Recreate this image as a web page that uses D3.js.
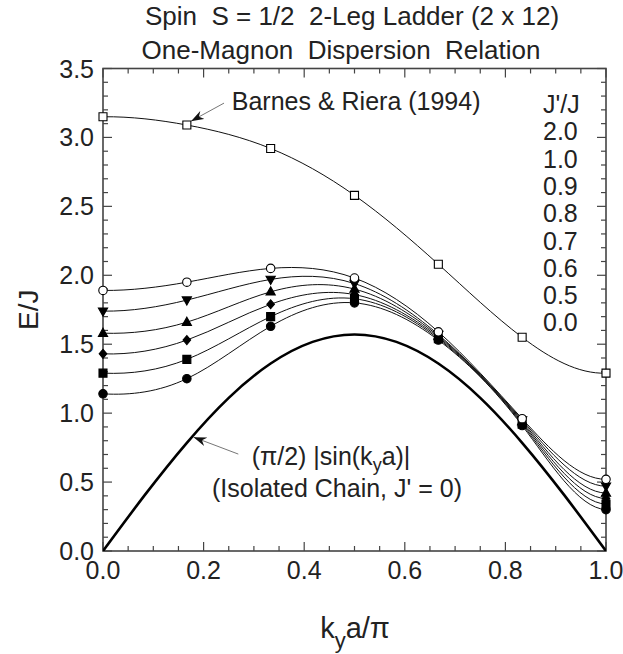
<!DOCTYPE html>
<html>
<head>
<meta charset="utf-8">
<script src="https://cdn.jsdelivr.net/npm/d3@7"></script>
<style>
  html, body { margin: 0; padding: 0; background: #fff; }
  svg { display: block; }
  text { font-family: "Liberation Sans", Arial, Helvetica, sans-serif; fill: #222; }
</style>
</head>
<body>
<svg id="chart" width="623" height="654"></svg>
<script>
// Wave vector k_y a / pi for the 2 x 12 ladder (k = 0 ... pi in steps of pi/6)
const kya = [0, 0.1667, 0.3333, 0.5, 0.6667, 0.8333, 1.0];

// One-magnon energies E/J for each rung coupling J'/J
const barnes = [3.15, 3.09, 2.92, 2.58, 2.08, 1.55, 1.29];   // J'/J = 2.0 (Barnes & Riera 1994)
const j10 = [1.89, 1.95, 2.05, 1.98, 1.59, 0.96, 0.52];
const j09 = [1.74, 1.82, 1.97, 1.94, 1.57, 0.95, 0.47];
const j08 = [1.58, 1.66, 1.88, 1.90, 1.56, 0.94, 0.42];
const j07 = [1.43, 1.53, 1.79, 1.86, 1.55, 0.93, 0.38];
const j06 = [1.29, 1.39, 1.70, 1.83, 1.54, 0.92, 0.34];
const j05 = [1.14, 1.25, 1.63, 1.80, 1.53, 0.91, 0.30];

// Isolated chain, J' = 0: (pi/2)|sin(k_y a)|
const chainK = [0, 0.0833, 0.1667, 0.25, 0.3333, 0.4167, 0.5, 0.5833, 0.6667, 0.75, 0.8333, 0.9167, 1.0];
const chainE = [0, 0.407, 0.785, 1.111, 1.360, 1.517, 1.571, 1.517, 1.360, 1.111, 0.785, 0.407, 0];

// Axis tick labels
const xTicks = [0.0, 0.2, 0.4, 0.6, 0.8, 1.0];
const yTicks = [0.0, 0.5, 1.0, 1.5, 2.0, 2.5, 3.0, 3.5];
const legendLabels = ["J'/J", "2.0", "1.0", "0.9", "0.8", "0.7", "0.6", "0.5", "0.0"];

const series = [
  { values: barnes, symbol: "square",   fill: "none" },
  { values: j10,    symbol: "circle",   fill: "none" },
  { values: j09,    symbol: "triDown",  fill: "#000" },
  { values: j08,    symbol: "triUp",    fill: "#000" },
  { values: j07,    symbol: "diamond",  fill: "#000" },
  { values: j06,    symbol: "square",   fill: "#000" },
  { values: j05,    symbol: "circle",   fill: "#000" }
];

const svg = d3.select("#chart");
const L = 103, R = 606, T = 68.5, B = 551;
const x = d3.scaleLinear().domain([0, 1]).range([L, R]);
const y = d3.scaleLinear().domain([0, 3.5]).range([B, T]);

const defs = svg.append("defs");
defs.append("clipPath").attr("id", "plotClip")
  .append("rect").attr("x", L).attr("y", T).attr("width", R - L).attr("height", B - T);

// arrowhead used by the annotations (tip sits on the line end)
defs.append("marker")
  .attr("id", "arrow").attr("viewBox", "-13 -5 14 10")
  .attr("refX", 0).attr("refY", 0)
  .attr("markerWidth", 14).attr("markerHeight", 10)
  .attr("markerUnits", "userSpaceOnUse")
  .attr("orient", "auto")
  .append("path").attr("d", "M0,0 L-13,-4.5 L-9,0 L-13,4.5 Z").attr("fill", "#111");

// ---- axes (frame with inward ticks on all four sides) ----
const axisColor = "#444";
const gAxes = svg.append("g");
const xMinor = d3.range(0, 1.0001, 0.05);
const yMinor = d3.range(0, 3.5001, 0.1);
const isMajor = (v, step) => Math.abs(v / step - Math.round(v / step)) < 1e-6;

xMinor.forEach(v => {
  const len = isMajor(v, 0.2) ? 9 : 5;
  gAxes.append("line").attr("x1", x(v)).attr("x2", x(v)).attr("y1", B).attr("y2", B - len)
    .attr("stroke", axisColor).attr("stroke-width", 1.2);
  gAxes.append("line").attr("x1", x(v)).attr("x2", x(v)).attr("y1", T).attr("y2", T + len)
    .attr("stroke", axisColor).attr("stroke-width", 1.2);
});
yMinor.forEach(v => {
  const len = isMajor(v, 0.5) ? 9 : 5;
  gAxes.append("line").attr("x1", L).attr("x2", L + len).attr("y1", y(v)).attr("y2", y(v))
    .attr("stroke", axisColor).attr("stroke-width", 1.2);
  gAxes.append("line").attr("x1", R).attr("x2", R - len).attr("y1", y(v)).attr("y2", y(v))
    .attr("stroke", axisColor).attr("stroke-width", 1.2);
});
gAxes.append("rect").attr("x", L).attr("y", T).attr("width", R - L).attr("height", B - T)
  .attr("fill", "none").attr("stroke", axisColor).attr("stroke-width", 1.6);

// tick labels
svg.append("g").selectAll("text").data(xTicks).join("text")
  .attr("x", d => x(d)).attr("y", B + 28)
  .attr("text-anchor", "middle").attr("font-size", 25)
  .text(d => d.toFixed(1));
svg.append("g").selectAll("text").data(yTicks).join("text")
  .attr("x", L - 9).attr("y", d => y(d) + 9)
  .attr("text-anchor", "end").attr("font-size", 25)
  .text(d => d.toFixed(1));

// axis titles
const xTitle = svg.append("text").attr("x", 355).attr("y", 638)
  .attr("text-anchor", "middle").attr("font-size", 29);
xTitle.append("tspan").text("k");
xTitle.append("tspan").attr("dy", 10).attr("font-size", 22).text("y");
xTitle.append("tspan").attr("dy", -10).text("a/\u03C0");

svg.append("text").attr("transform", `translate(38,${(T + B) / 2}) rotate(-90)`)
  .attr("text-anchor", "middle").attr("font-size", 28).text("E/J");

// title
svg.append("text").attr("x", 352).attr("y", 25).attr("text-anchor", "middle")
  .attr("font-size", 26).attr("xml:space", "preserve")
  .text("Spin  S = 1/2  2-Leg Ladder (2 x 12)");
svg.append("text").attr("x", 341).attr("y", 59).attr("text-anchor", "middle")
  .attr("font-size", 26).attr("xml:space", "preserve")
  .text("One-Magnon  Dispersion  Relation");

// ---- curves ----
const plot = svg.append("g").attr("clip-path", "url(#plotClip)");

// smooth curve with zero slope at the zone centre and boundary (mirrored end points)
function mirrored(vals) {
  const pts = kya.map((k, i) => [k, vals[i]]);
  return [[-kya[1], vals[1]], ...pts, [2 - kya[kya.length - 2], vals[vals.length - 2]]];
}
const smooth = d3.line().x(d => x(d[0])).y(d => y(d[1])).curve(d3.curveNatural);

series.forEach(s => {
  plot.append("path").attr("d", smooth(mirrored(s.values)))
    .attr("fill", "none").attr("stroke", "#111").attr("stroke-width", 1);
});

// isolated chain
plot.append("path")
  .attr("d", d3.line().x((d, i) => x(chainK[i])).y(d => y(d)).curve(d3.curveNatural)(chainE))
  .attr("fill", "none").attr("stroke", "#000").attr("stroke-width", 2.6);

// ---- markers ----
const symbolPath = {
  square:  d3.symbol().type(d3.symbolSquare).size(64)(),
  circle:  d3.symbol().type(d3.symbolCircle).size(56)(),
  diamond: "M0,-4.5L3.8,0L0,4.5L-3.8,0Z",
  triUp:   "M0,-5L4.6,3.2L-4.6,3.2Z",
  triDown: "M0,5L4.6,-3.2L-4.6,-3.2Z"
};
const gMarks = svg.append("g");
series.slice().reverse().forEach(s => {
  gMarks.append("g").selectAll("path").data(s.values).join("path")
    .attr("transform", (d, i) => `translate(${x(kya[i])},${y(d)})`)
    .attr("d", symbolPath[s.symbol])
    .attr("fill", s.fill === "none" ? "#fff" : s.fill)
    .attr("stroke", "#000").attr("stroke-width", 1.1);
});

// ---- annotations ----
svg.append("text").attr("x", x(0.256)).attr("y", y(3.196))
  .attr("font-size", 25).text("Barnes & Riera (1994)");
svg.append("line")
  .attr("x1", x(0.2406)).attr("y1", y(3.249)).attr("x2", x(0.175)).attr("y2", y(3.118))
  .attr("stroke", "#666").attr("stroke-width", 0.9).attr("marker-end", "url(#arrow)");

const c1 = svg.append("text").attr("x", 331).attr("y", 465).attr("text-anchor", "middle")
  .attr("font-size", 25).attr("xml:space", "preserve");
c1.append("tspan").text("(\u03C0/2) |sin(k");
c1.append("tspan").attr("dy", 6).attr("font-size", 18).text("y");
c1.append("tspan").attr("dy", -6).text("a)|");
svg.append("text").attr("x", 337).attr("y", 497).attr("text-anchor", "middle")
  .attr("font-size", 25).text("(Isolated Chain, J' = 0)");
svg.append("line")
  .attr("x1", x(0.269)).attr("y1", y(0.703)).attr("x2", x(0.18)).attr("y2", y(0.826))
  .attr("stroke", "#666").attr("stroke-width", 0.9).attr("marker-end", "url(#arrow)");

// ---- J'/J labels ----
svg.append("g").selectAll("text").data(legendLabels).join("text")
  .attr("x", 543).attr("y", (d, i) => 113 + i * 27.3)
  .attr("font-size", 25).text(d => d);
</script>
</body>
</html>
